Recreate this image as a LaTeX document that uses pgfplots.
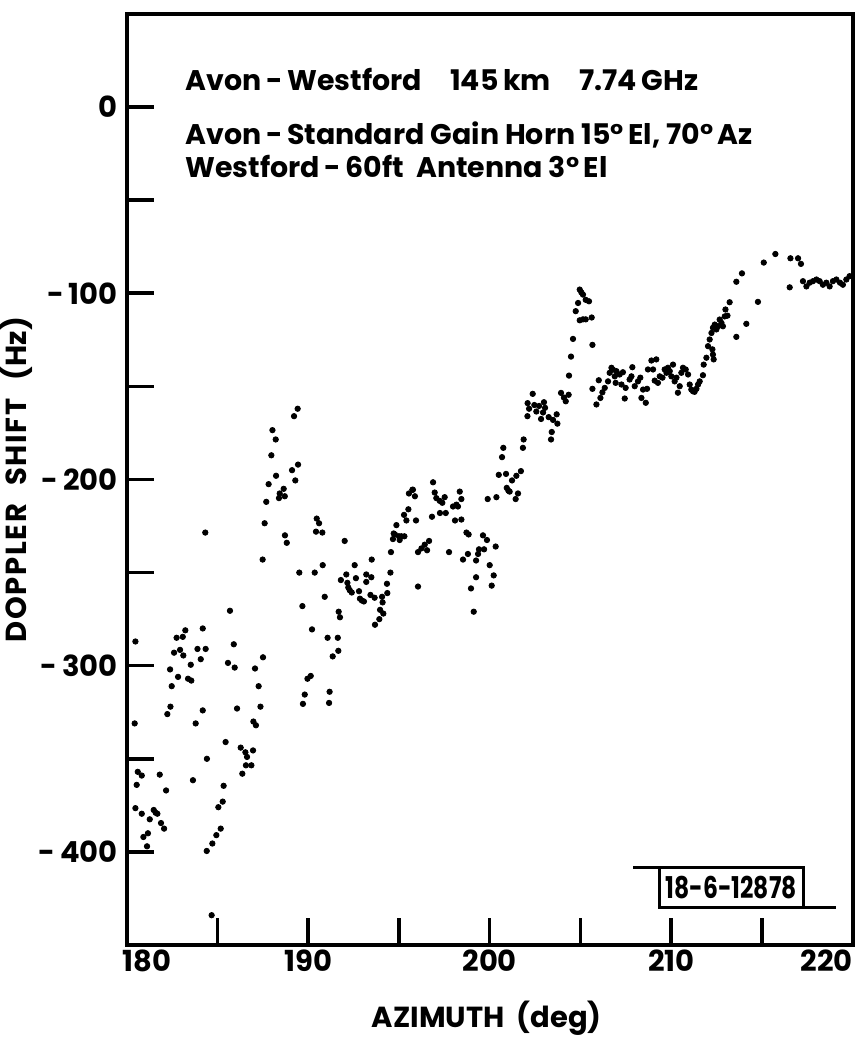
\documentclass[border=0pt]{standalone}
\usepackage{pgfplots}
\pgfplotsset{compat=1.18}
\usepackage{fontspec}
\setmainfont{Poppins}
\begin{document}
\begin{tikzpicture}
\useasboundingbox (0,0) rectangle (429pt,520.5pt);
\begin{axis}[
  at={(63.35pt,48pt)}, anchor=south west,
  scale only axis, width=363pt, height=465.5pt,
  xmin=180, xmax=220, ymin=-450, ymax=50,
  axis line style={line width=2pt},
  xtick={180,185,...,220},
  xticklabels={\hspace*{20pt}180,,190,,200,,210,,220\hspace*{26pt}},
  ytick={-400,-350,...,0},
  yticklabels={-\,400,,-\,300,,-\,200,,-\,100,,0},
  xtick pos=bottom, ytick pos=left,
  tick align=inside,
  major tick length=13.5pt,
  every tick/.style={line width=1.8pt, black},
  /pgf/number format/assume math mode=true,
  ticklabel style={font=\fontsize{14.5}{14.5}\selectfont\bfseries},
  yticklabel style={xshift=-1pt},
  xticklabel style={yshift=1pt},
  xlabel={AZIMUTH\ \ (deg)},
  ylabel={D\kern.8pt O\kern.8pt P\kern.8pt P\kern.8pt L\kern.8pt E\kern.8pt R\ \ \ S\kern.8pt H\kern.8pt I\kern.8pt F\kern.8pt T\ \ \ (Hz)},
  label style={font=\fontsize{14.5}{14.5}\selectfont\bfseries},
  xlabel style={at={(axis description cs:0.496,-0.0784)}, anchor=center},
  ylabel style={at={(axis description cs:-0.1515,0.5)}, anchor=center},
  clip=false,
]
\addplot[only marks, mark=*, mark size=1.35pt, black] coordinates {
(189.42,-162) (189.22,-166) (188.03,-173.5) (188.21,-178.5) (187.97,-187) (188.23,-198)
(189.11,-195) (189.44,-192) (189.29,-200.5) (187.82,-202.5) (188.65,-205) (188.43,-207.5)
(188.71,-209) (188.39,-210) (187.69,-212) (187.60,-223.5) (188.72,-230) (188.82,-234)
(187.49,-243) (184.33,-228.5) (189.51,-250) (189.68,-268) (190.21,-280.5)
(190.47,-221) (190.6,-223.5) (190.43,-228) (190.78,-228.5) (190.8,-246) (190.36,-250)
(190.91,-263) (191.07,-285) (191.63,-285) (191.35,-295) (191.66,-292) (191.68,-271)
(191.75,-274) (192.01,-233) (191.8,-254) (192.1,-251) (192.16,-255.5) (192.21,-258)
(192.29,-259.5) (192.4,-260.7) (192.56,-246) (192.63,-253) (192.8,-260) (192.85,-264)
(192.96,-265) (193.07,-265.5) (193.2,-251) (193.2,-255) (193.5,-243) (193.48,-252.5)
(193.43,-262) (193.66,-263.5) (194.07,-263) (194.1,-266) (193.96,-270) (194.14,-272)
(193.92,-275) (193.68,-278) (194.34,-256) (194.36,-261) (194.53,-250) (194.56,-239)
(194.67,-232) (194.71,-229) (194.86,-224.5) (194.78,-229.5) (195.0,-230.5) (195.04,-232.5)
(195.3,-230.5) (195.28,-219) (195.41,-222) (195.52,-216) (195.55,-207.5) (195.77,-205.5)
(195.88,-209) (195.94,-222) (196.05,-239) (196.05,-257.5)
(180.48,-287) (182.75,-285) (183.09,-284.5) (183.23,-281) (184.19,-280) (182.61,-293)
(182.94,-291.5) (183.12,-294.5) (183.9,-291) (184.35,-291) (184.08,-296.5) (183.53,-299.5)
(182.39,-302) (182.83,-306) (183.38,-307) (183.56,-308) (182.48,-311) (182.41,-322)
(182.24,-326) (184.19,-324) (183.8,-331) (180.44,-331) (185.69,-270.5) (185.9,-288.5)
(185.58,-298.5) (185.95,-301) (186.08,-323) (185.45,-341) (184.42,-350) (183.65,-361.5)
(185.34,-364.5) (185.29,-373) (185.05,-376) (185.18,-387.5) (184.94,-391) (184.72,-395.5)
(184.41,-399.5) (187.07,-301.5) (187.51,-295.5) (187.27,-311) (187.37,-322) (186.98,-330)
(187.12,-332) (186.28,-344) (186.54,-346.5) (186.63,-349) (186.96,-345.5) (186.57,-353.5)
(186.87,-353.5) (186.37,-358) (189.81,-315.5) (189.71,-320.5) (190.14,-305.5) (189.96,-307)
(191.18,-314) (191.15,-320)
(180.61,-357) (180.83,-359) (181.82,-358.5) (180.55,-364) (182.17,-367) (180.48,-376.5)
(180.83,-379.5) (181.27,-382.5) (181.49,-377.5) (181.6,-379) (181.69,-379.5) (181.89,-384.5)
(182.06,-387.5) (181.17,-390) (180.92,-392) (181.12,-397) (184.68,-434)
(196.88,-201.5) (196.97,-207) (197.06,-210) (197.25,-211.5) (197.39,-212.5) (197.52,-209.5)
(198.35,-206.5) (198.44,-210.5) (197.98,-214.5) (198.17,-213.5) (198.25,-214.5) (195.74,-205.5)
(196.82,-220) (197.26,-218) (197.58,-218) (198.09,-222) (198.44,-221.5) (198.72,-228.5)
(198.84,-229.5) (199.63,-230) (199.85,-232.5) (200.33,-236) (199.69,-237.5) (199.41,-237.5)
(199.36,-240) (198.80,-240) (198.53,-243) (199.25,-243.5) (200.0,-246) (200.22,-251.5)
(199.25,-252.5) (200.11,-257) (198.97,-258.5) (197.76,-239) (196.55,-238) (196.66,-233)
(196.42,-235) (196.24,-237) (199.12,-271) (195.13,-230.5)
(201.87,-178.5) (201.83,-183) (200.75,-183) (200.68,-188) (200.5,-197.5) (200.9,-197)
(201.23,-200.5) (201.47,-198) (201.72,-195.5) (200.94,-204.5) (201.03,-206) (201.10,-206.5)
(201.56,-207.5) (201.43,-210.5) (200.37,-209.5) (199.89,-210.5)
(202.37,-154) (202.09,-159) (202.17,-162) (202.08,-166) (202.46,-160) (202.57,-163.5)
(202.72,-160.5) (202.99,-158.5) (203.05,-161.5) (202.94,-164) (202.83,-167.5) (203.25,-166.5)
(203.49,-168) (203.69,-165) (203.73,-170) (203.42,-174.5) (203.38,-178.5) (203.93,-153.5)
(204.09,-156) (204.19,-158) (204.35,-154.5)
(204.96,-98) (205.05,-99.5) (205.14,-100.7) (205.29,-103.5) (205.47,-104.3) (204.87,-105.2)
(204.74,-109.6) (204.96,-114.5) (205.14,-114) (205.29,-114) (205.62,-113) (204.59,-124.5)
(205.66,-127.7) (204.48,-134) (204.37,-144.2)
(205.66,-151.3) (205.88,-159.7) (206.10,-156.2) (206.21,-153.2) (206.34,-150.8) (206.01,-146.7)
(206.52,-147.3) (206.61,-142.7) (206.71,-140) (206.79,-141) (206.89,-144.6) (206.98,-141.8)
(207.16,-143.6) (207.34,-142.4) (206.94,-148.1) (207.26,-149) (207.49,-150.8) (207.44,-156.5)
(207.71,-146.3) (207.86,-139.7) (207.81,-144.6) (207.99,-149.9) (208.17,-147.3) (208.30,-145.3)
(208.45,-151.7) (208.36,-156.2) (208.60,-158.8) (208.67,-151.3) (208.72,-140.9) (208.91,-136.1)
(209.00,-140.9) (209.18,-135.5) (209.09,-146.9) (209.27,-148.1) (209.37,-144.6) (209.52,-145.3)
(209.64,-140.9) (209.74,-142.7) (209.82,-140) (209.92,-141.8) (210.01,-144.6) (210.10,-138.3)
(210.19,-147.3) (210.29,-145.3) (210.37,-153.4) (210.47,-149.9) (210.56,-142.7) (210.65,-140)
(210.80,-140.9) (210.93,-143.6) (211.02,-149) (211.11,-151.7) (211.20,-152.6) (211.29,-152.9)
(211.39,-151.3) (211.48,-149) (211.57,-147.3) (211.75,-144) (211.79,-138.3) (211.94,-134.6)
(212.03,-128.4) (212.12,-124.8) (212.22,-121.3) (212.30,-118.5) (212.40,-116.8) (212.27,-130.1)
(212.30,-132.9) (212.34,-135.5) (212.49,-119.4) (212.58,-117.7) (212.67,-114.1) (212.77,-115.9)
(212.85,-117.7) (212.95,-112.4) (212.99,-108.7) (213.10,-112) (213.22,-104.8) (213.59,-123.4)
(213.59,-93.8) (213.90,-89.3) (214.14,-116.4) (214.78,-104.6) (215.10,-83.5) (215.74,-78.9)
(216.53,-96.8) (216.57,-81.2) (216.99,-81.2) (217.15,-84.2) (217.26,-93.5) (217.45,-96.3)
(217.63,-94.3) (217.81,-93.5) (218.00,-92.6) (218.18,-93.5) (218.36,-95.4) (218.55,-94.3)
(218.73,-96.3) (218.91,-93.5) (219.10,-92.6) (219.30,-94.3) (219.46,-95.4) (219.65,-92.6)
(219.83,-90.8)
};
\node[anchor=base west, inner sep=0pt, font=\fontsize{14.2}{14.2}\selectfont\bfseries] at (axis description cs:0.0803,0.9176) {Avon\,-\,Westford\quad 145\,km\quad 7.74\,GHz};
\node[anchor=base west, inner sep=0pt, font=\fontsize{14.2}{14.2}\selectfont\bfseries] at (axis description cs:0.0803,0.8593) {Avon\,-\,Standard Gain Horn 15°\,El, 70°\,Az};
\node[anchor=base west, inner sep=0pt, font=\fontsize{14.2}{14.2}\selectfont\bfseries] at (axis description cs:0.0803,0.8249) {Westford\,-\,60ft\ \ Antenna 3°\,El};
\draw[line width=1.4pt] (axis description cs:0.6974,0.083) -- (axis description cs:0.932,0.083) -- (axis description cs:0.932,0.0405) -- (axis description cs:0.7336,0.0405) -- (axis description cs:0.7336,0.083);
\draw[line width=1.4pt] (axis description cs:0.932,0.0405) -- (axis description cs:0.9766,0.0405);
\node[inner sep=0pt, font=\fontsize{15}{15}\selectfont\bfseries] at (axis description cs:0.8328,0.0618) {\scalebox{0.78}[1]{18-6-12878}};
\end{axis}
\end{tikzpicture}
\end{document}
